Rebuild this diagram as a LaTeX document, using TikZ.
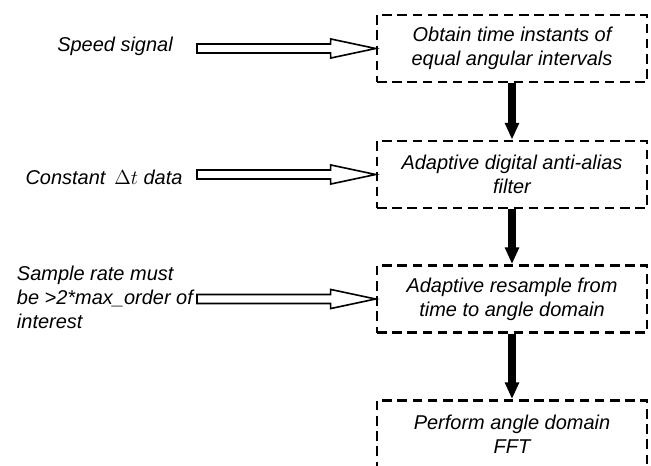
\documentclass[tikz,border=0pt]{standalone}
\usepackage{fontspec}
\setmainfont{Liberation Sans}
\usetikzlibrary{arrows.meta,calc}

\newcommand{\etiq}{\fontsize{14.2}{17.1}\selectfont\itshape}

\tikzset{
    caja/.style={draw, line width=1.9pt, dash pattern=on 6.8pt off 4pt,
        minimum width=6.75cm, minimum height=1.675cm, align=center, font=\etiq},
    texto/.style={font=\etiq},
    flecha/.style={line width=5.6pt, -{Triangle[length=12pt,width=9.6pt]}},
    hueca/.style={draw, line width=1.15pt, fill=white, line join=miter}
}

\begin{document}
\begin{tikzpicture}[x=0.025cm, y=-0.025cm]

    \useasboundingbox (0,0) rectangle (651,466);
    \clip (0,0) rectangle (651,466);

    % Cajas del proceso
    \node[caja] (b1) at (512,48.5) {Obtain time instants of\\equal angular intervals};
    \node[caja] (b2) at (512,174.5) {Adaptive digital anti-alias\\filter};
    \node[caja] (b3) at (512,299) {Adaptive resample from\\time to angle domain};
    \node[caja] (b4) at (512,434) {Perform angle domain\\FFT};

    % Flechas entre cajas
    \draw[flecha] (b1) -- (b2);
    \draw[flecha] (b2) -- (b3);
    \draw[flecha] (b3) -- (b4);

    % Entradas
    \node[texto] (e1) at (115,46) {Speed signal};
    \node[texto] (e2) at (104,177) {Constant \,$\Delta t$ data};
    \node[texto, align=left, anchor=west] (e3) at (12,297) {Sample rate must\\be >2*max\_order of\\interest};

    \coordinate (c1) at (197,48.5);
    \coordinate (c2) at (197,174.5);
    \coordinate (c3) at (197,299);

    % Flechas huecas
    \foreach \c/\b in {c1/b1, c2/b2, c3/b3}
        \draw[hueca] let \p1=(\c), \p2=(\b.west) in
            (\x1,\y2+3.2pt) -- (\x2-32pt,\y2+3.2pt) -- (\x2-32pt,\y2+6.8pt) -- (\p2)
            -- (\x2-32pt,\y2-6.8pt) -- (\x2-32pt,\y2-3.2pt) -- (\x1,\y2-3.2pt) -- cycle;

\end{tikzpicture}
\end{document}
